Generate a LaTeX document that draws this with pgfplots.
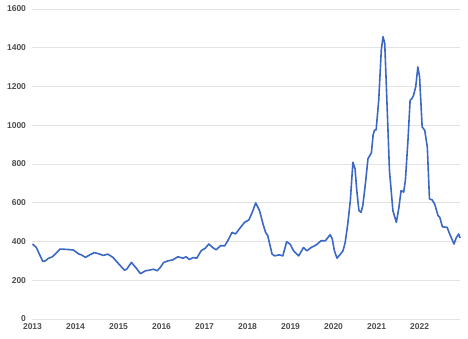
\documentclass[border=0pt]{standalone}
\usepackage{pgfplots}
\pgfplotsset{compat=1.18}
\usepackage{fontspec}
\setmainfont{Liberation Sans}
\definecolor{lineblue}{HTML}{3A68C4}
\definecolor{gridgray}{HTML}{E3E3E3}
\definecolor{labgray}{HTML}{4D4D4D}
\begin{document}
\begin{tikzpicture}
\path (-32.5pt,-19pt) rectangle (435.5pt,319pt);
\begin{axis}[
  at={(0pt,0pt)}, anchor=south west,
  scale only axis, width=427.5pt, height=310pt,
  xmin=2013, xmax=2022.94, ymin=0, ymax=1600,
  xtick={2013,...,2022}, ytick={0,200,...,1600},
  /pgf/number format/1000 sep={},
  /pgf/number format/assume math mode=true,
  axis line style={draw=none},
  axis x line*=bottom, axis y line*=left,
  ymajorgrids, major grid style={gridgray, line width=0.8pt},
  tick style={draw=none},
  ticklabel style={font=\bfseries\fontsize{8.5}{10}\selectfont, text=labgray},
  yticklabel style={xshift=-3pt},
  xticklabel style={yshift=-1pt},
  clip=false,
]
\draw[gridgray, line width=0.8pt] (axis cs:2013,0) -- (axis cs:2022.94,0);
\addplot[lineblue, line width=1.6pt, line join=round, mark=none] coordinates {
(2013.00,387) (2013.09,369) (2013.17,330) (2013.24,297) (2013.30,300)
(2013.36,312) (2013.46,321) (2013.55,340) (2013.64,361) (2013.73,360)
(2013.82,359) (2013.95,356) (2014.08,335) (2014.13,332) (2014.23,318)
(2014.33,331) (2014.44,343) (2014.56,335) (2014.65,328) (2014.75,335)
(2014.87,318) (2015.01,283) (2015.14,252) (2015.19,257) (2015.30,292)
(2015.40,266) (2015.51,234) (2015.63,249) (2015.72,252) (2015.81,257)
(2015.90,249) (2015.97,266) (2016.05,292) (2016.15,300) (2016.26,305)
(2016.38,321) (2016.50,314) (2016.57,321) (2016.65,307) (2016.73,317)
(2016.82,314) (2016.92,352) (2017.02,366) (2017.10,387) (2017.19,369)
(2017.27,357) (2017.37,378) (2017.47,378) (2017.54,404) (2017.64,447)
(2017.72,439) (2017.81,465) (2017.93,499) (2018.03,511) (2018.11,551)
(2018.19,599) (2018.28,559) (2018.36,490) (2018.42,447) (2018.47,430)
(2018.57,335) (2018.63,326) (2018.74,331) (2018.82,326) (2018.91,399)
(2018.99,386) (2019.07,352) (2019.19,326) (2019.30,369) (2019.38,352)
(2019.48,369) (2019.60,383) (2019.71,404) (2019.81,404) (2019.92,435)
(2019.97,413) (2020.02,352) (2020.08,314) (2020.16,335) (2020.22,352)
(2020.27,395) (2020.33,490) (2020.39,611) (2020.45,809) (2020.50,775)
(2020.54,663) (2020.59,559) (2020.64,551) (2020.68,585) (2020.74,698)
(2020.80,827) (2020.88,858) (2020.92,950) (2020.95,974) (2020.99,976)
(2021.05,1129) (2021.11,1388) (2021.15,1457) (2021.19,1423) (2021.24,1129)
(2021.30,766) (2021.38,559) (2021.46,499) (2021.52,576) (2021.57,663)
(2021.63,655) (2021.67,715) (2021.73,922) (2021.78,1129) (2021.82,1137)
(2021.86,1155) (2021.91,1198) (2021.96,1301) (2022.00,1250) (2022.06,991)
(2022.12,974) (2022.18,887) (2022.23,620) (2022.29,615) (2022.35,594)
(2022.43,533) (2022.47,525) (2022.53,476) (2022.64,473) (2022.70,439)
(2022.80,387) (2022.85,418) (2022.91,439) (2022.94,418)
};
\end{axis}
\end{tikzpicture}
\end{document}
